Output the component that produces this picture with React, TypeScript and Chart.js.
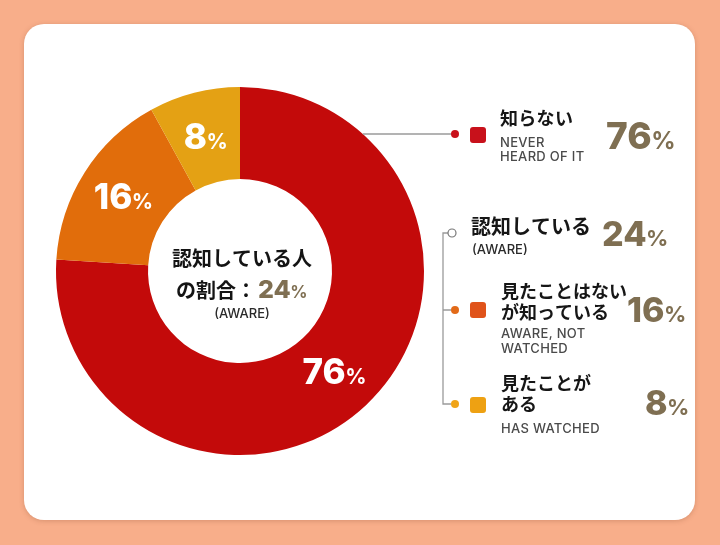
import { useEffect, useRef } from 'react';
import { Chart, registerables } from 'chart.js';

Chart.register(...registerables);

// ---- data ----
const categories = ['知らない', '見たことはないが知っている', '見たことがある'];
const values = [76, 16, 8];
const legendJa = [['知らない'], ['見たことはない', 'が知っている'], ['見たことが', 'ある']];
const legendEn = [['NEVER', 'HEARD OF IT'], ['AWARE, NOT', 'WATCHED'], ['HAS WATCHED']];
const awareJa = '認知している';
const awareEn = '(AWARE)';
const awareValue = 24;
const centerTitle = ['認知している人', 'の割合：'];

// ---- styles ----
const sliceColors = ['#c30a0a', '#e16d0b', '#e4a114'];
const squareColors = ['#c8111b', '#e0531a', '#eea112'];
const numColor = '#7f6f52';
const JP = "'Noto Sans CJK JP', 'Noto Sans', sans-serif";
const NUM = "Inter, 'Noto Sans', sans-serif";

function drawPct(
  ctx: CanvasRenderingContext2D,
  num: string,
  x: number,
  y: number,
  numSize: number,
  pctSize: number,
  color: string,
  align: 'left' | 'center'
) {
  const numFont = `800 ${numSize}px ${NUM}`;
  const pctFont = `700 ${pctSize}px ${NUM}`;
  ctx.font = numFont;
  const w1 = ctx.measureText(num).width;
  ctx.font = pctFont;
  const w2 = ctx.measureText('%').width;
  const gap = -0.5;
  const x0 = align === 'center' ? x - (w1 + gap + w2) / 2 : x;
  ctx.fillStyle = color;
  ctx.textAlign = 'left';
  ctx.textBaseline = 'alphabetic';
  ctx.font = numFont;
  ctx.fillText(num, x0, y);
  ctx.font = pctFont;
  ctx.fillText('%', x0 + w1 + gap, y);
}

const overlayPlugin = {
  id: 'overlay',
  afterDatasetsDraw(chart: any) {
    const ctx: CanvasRenderingContext2D = chart.ctx;
    const meta = chart.getDatasetMeta(0);
    ctx.save();

    // slice labels
    meta.data.forEach((arc: any, i: number) => {
      const p = arc.tooltipPosition();
      drawPct(ctx, String(values[i]), p.x, p.y + 12, 35, 21, '#ffffff', 'center');
    });

    // center text
    const a0 = meta.data[0];
    const cx = a0.x;
    const cy = a0.y;
    const R = a0.outerRadius;
    ctx.fillStyle = '#141414';
    ctx.textAlign = 'center';
    ctx.textBaseline = 'alphabetic';
    ctx.font = `700 20px ${JP}`;
    ctx.fillText(centerTitle[0], cx + 2, 266);
    // line 2
    ctx.font = `700 20px ${JP}`;
    const wA = ctx.measureText(centerTitle[1]).width;
    ctx.font = `800 25px ${NUM}`;
    const wB = ctx.measureText(String(awareValue)).width;
    ctx.font = `700 17px ${NUM}`;
    const wC = ctx.measureText('%').width;
    const startX = cx + 2 - (wA + wB + wC + 2) / 2;
    ctx.textAlign = 'left';
    ctx.font = `700 20px ${JP}`;
    ctx.fillStyle = '#141414';
    ctx.fillText(centerTitle[1], startX, 298);
    drawPct(ctx, String(awareValue), startX + wA + 2, 298, 25, 17, numColor, 'left');
    ctx.textAlign = 'center';
    ctx.fillStyle = '#2a2a2a';
    ctx.font = `500 13px ${NUM}`;
    ctx.fillText(awareEn, cx + 2, 318);

    // connectors
    ctx.strokeStyle = '#9a9a9a';
    ctx.lineWidth = 1.3;
    const ly = 134;
    const lx0 = cx + Math.sqrt(R * R - (ly - cy) * (ly - cy));
    ctx.beginPath();
    ctx.moveTo(lx0, ly);
    ctx.lineTo(452, ly);
    ctx.stroke();
    // bracket
    ctx.beginPath();
    ctx.moveTo(448, 233);
    ctx.lineTo(443, 233);
    ctx.lineTo(443, 404);
    ctx.lineTo(451, 404);
    ctx.moveTo(443, 310);
    ctx.lineTo(451, 310);
    ctx.stroke();
    // open circle
    ctx.beginPath();
    ctx.arc(452, 233, 4, 0, Math.PI * 2);
    ctx.fillStyle = '#ffffff';
    ctx.fill();
    ctx.strokeStyle = '#777777';
    ctx.lineWidth = 1.2;
    ctx.stroke();
    // dots
    const dotYs = [134, 310, 404];
    const dotColors = ['#c8111b', '#e26a18', '#f0a418'];
    dotYs.forEach((y, i) => {
      ctx.beginPath();
      ctx.arc(455, y, 4, 0, Math.PI * 2);
      ctx.fillStyle = dotColors[i];
      ctx.fill();
    });
    // squares
    const sqYs = [127, 302, 397];
    sqYs.forEach((y, i) => {
      ctx.beginPath();
      (ctx as any).roundRect(470, y, 16, 16, 3);
      ctx.fillStyle = squareColors[i];
      ctx.fill();
    });

    // legend text
    ctx.textAlign = 'left';
    const enFont = `500 13px ${NUM}`;
    (ctx as any).letterSpacing = '0.3px';

    // item 1
    ctx.fillStyle = '#161616';
    ctx.font = `700 18px ${JP}`;
    ctx.fillText(legendJa[0][0], 500, 125);
    ctx.fillStyle = '#4a4a4a';
    ctx.font = enFont;
    ctx.fillText(legendEn[0][0], 500, 147);
    ctx.fillText(legendEn[0][1], 500, 161);
    (ctx as any).letterSpacing = '0px';
    drawPct(ctx, String(values[0]), 606, 149, 37, 24, numColor, 'left');

    // aware
    ctx.fillStyle = '#161616';
    ctx.font = `700 20px ${JP}`;
    ctx.fillText(awareJa, 471, 234);
    ctx.fillStyle = '#2a2a2a';
    ctx.font = enFont;
    ctx.fillText(awareEn, 472, 254);
    drawPct(ctx, String(awareValue), 602, 246, 34, 22, numColor, 'left');

    // item 2
    ctx.fillStyle = '#161616';
    ctx.font = `700 18px ${JP}`;
    ctx.fillText(legendJa[1][0], 501, 298);
    ctx.fillText(legendJa[1][1], 501, 319);
    (ctx as any).letterSpacing = '0.3px';
    ctx.fillStyle = '#4a4a4a';
    ctx.font = enFont;
    ctx.fillText(legendEn[1][0], 501, 338);
    ctx.fillText(legendEn[1][1], 501, 353);
    (ctx as any).letterSpacing = '0px';
    drawPct(ctx, String(values[1]), 627, 322, 34, 22, numColor, 'left');

    // item 3
    ctx.fillStyle = '#161616';
    ctx.font = `700 18px ${JP}`;
    ctx.fillText(legendJa[2][0], 501, 390);
    ctx.fillText(legendJa[2][1], 501, 411);
    (ctx as any).letterSpacing = '0.3px';
    ctx.fillStyle = '#4a4a4a';
    ctx.font = enFont;
    ctx.fillText(legendEn[2][0], 501, 433);
    (ctx as any).letterSpacing = '0px';
    drawPct(ctx, String(values[2]), 645, 415, 34, 22, numColor, 'left');

    ctx.restore();
  },
};

export default function App() {
  const ref = useRef<HTMLCanvasElement>(null);
  useEffect(() => {
    if (!ref.current) return;
    const chart = new Chart(ref.current, {
      type: 'doughnut',
      data: {
        labels: categories,
        datasets: [
          {
            data: values,
            backgroundColor: sliceColors,
            borderWidth: 0,
          },
        ],
      },
      options: {
        responsive: false,
        animation: false,
        cutout: '50%',
        layout: { padding: { left: 56, top: 87, right: 296, bottom: 90 } },
        plugins: {
          legend: { display: false },
          tooltip: { enabled: false },
        },
        events: [],
      },
      plugins: [overlayPlugin],
    });
    return () => chart.destroy();
  }, []);

  return (
    <div
      style={{
        position: 'fixed',
        left: 0,
        top: 0,
        width: 720,
        height: 545,
        background: '#f8ae8a',
        overflow: 'hidden',
      }}
    >
      <div
        style={{
          position: 'absolute',
          left: 24,
          top: 24,
          width: 671,
          height: 496,
          background: '#ffffff',
          borderRadius: 20,
          boxShadow: '0 1px 5px rgba(120,60,30,0.25)',
        }}
      />
      <canvas
        ref={ref}
        width={720}
        height={545}
        style={{ position: 'absolute', left: 0, top: 0, width: 720, height: 545 }}
      />
    </div>
  );
}
